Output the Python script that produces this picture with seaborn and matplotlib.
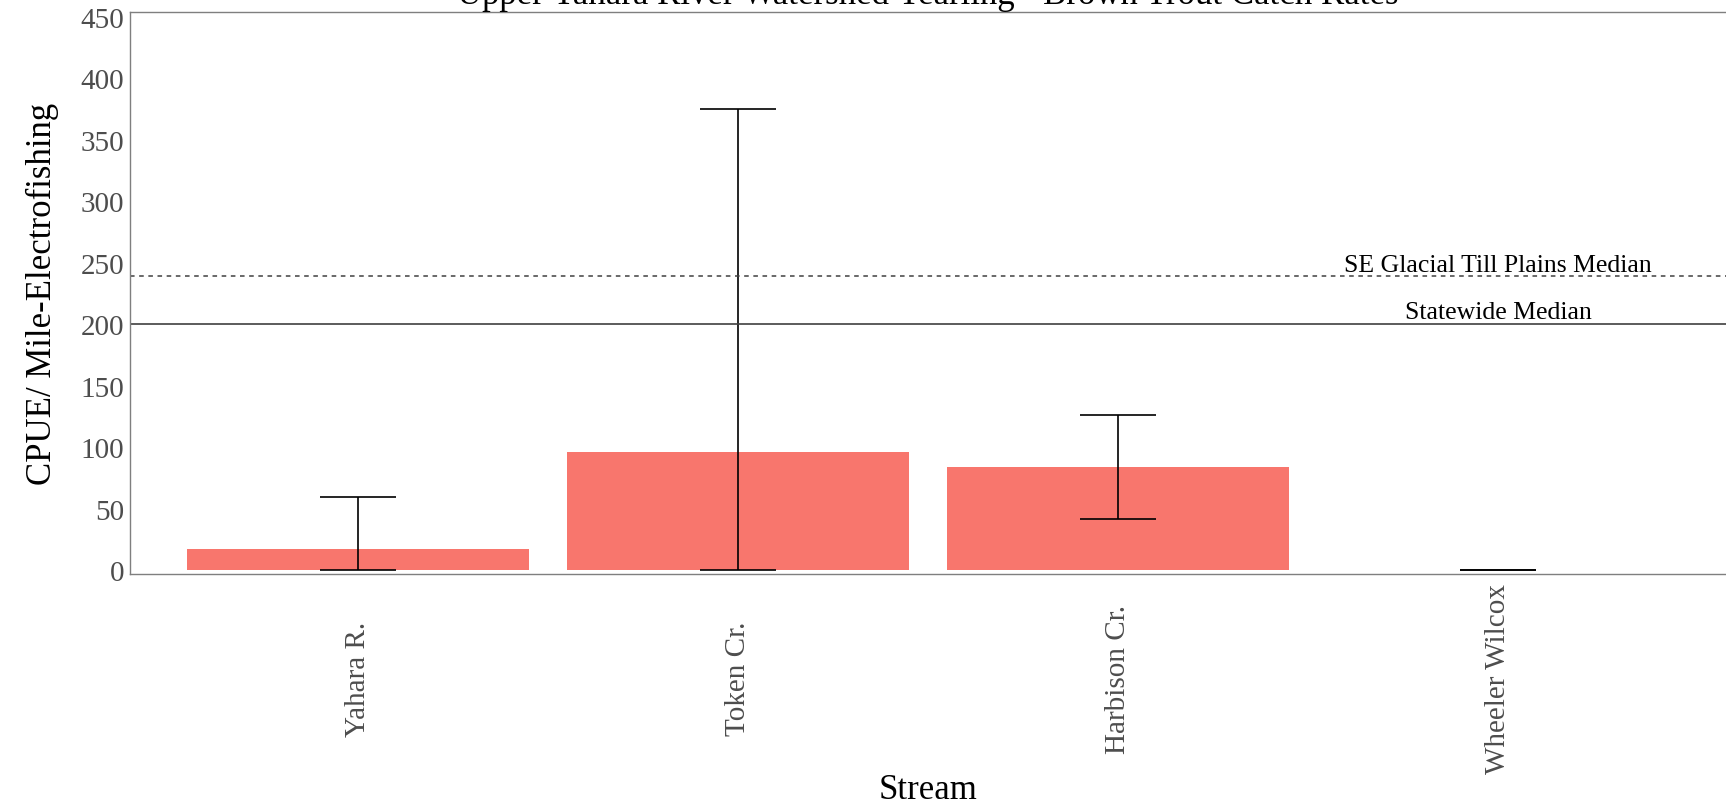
import numpy as np
import pandas as pd
import seaborn as sns
import matplotlib as ml
ml.use('Agg')
import matplotlib.pyplot as plt

streams = ["Yahara R.", "Token Cr.", "Harbison Cr.", "Wheeler Wilcox"]
cpue = [17, 96, 84, 0]
ci_low = [0, 0, 42, 0]
ci_high = [60, 375, 126, 0]
statewide_median = 200
region_median = 239

df = pd.DataFrame({"Stream": streams, "CPUE": cpue})

sns.set_style("white")
plt.rcParams['font.family'] = ['Liberation Serif', 'DejaVu Serif']

fig = plt.figure(figsize=(17.26, 8.12), dpi=100)
ax = fig.add_axes([130/1726, 237/812, 1 - 130/1726, 562/812])

sns.barplot(data=df, x="Stream", y="CPUE", color="#F8766D", saturation=1,
            width=0.9, errorbar=None, linewidth=0, ax=ax)

# error bars with caps (width 0.2 like ggplot)
pos = np.arange(len(streams))
ax.vlines(pos, ci_low, ci_high, color="black", lw=1.2)
ax.hlines(ci_low, pos - 0.1, pos + 0.1, color="black", lw=1.2)
ax.hlines(ci_high, pos - 0.1, pos + 0.1, color="black", lw=1.2)

# reference lines
ax.axhline(region_median, color="#404040", lw=1.1, ls=(0, (3, 3)))
ax.axhline(statewide_median, color="#404040", lw=1.2)
ax.text(3, 248, "SE Glacial Till Plains Median", ha="center", va="center", fontsize=18.5, color="black")
ax.text(3, 210, "Statewide Median", ha="center", va="center", fontsize=18.5, color="black")

ax.set_xlim(-0.6, 3.6)
ax.set_ylim(-3, 454)
ax.set_yticks(range(0, 451, 50))

for s in ax.spines.values():
    s.set_color("#7f7f7f")
    s.set_linewidth(1.0)
ax.spines["right"].set_visible(False)

ax.tick_params(axis="both", colors="#7f7f7f", length=3, width=1, labelsize=21, labelcolor="#4D4D4D")
ax.tick_params(axis="y", pad=1)
ax.tick_params(axis="x", pad=72)
plt.setp(ax.get_xticklabels(), rotation=90, ha="center", va="center")

ax.set_xlabel("Stream", fontsize=25, color="black", va="center")
ax.xaxis.set_label_coords(0.5, -0.3826)
ax.set_ylabel("CPUE/ Mile-Electrofishing", fontsize=25, color="black", va="center")
ax.yaxis.set_label_coords(-0.055, 0.5)

# title sits mostly above the figure edge, as in the reference
fig.text(0.5377, 1 - 4/812, "Upper Yahara River Watershed Yearling+ Brown Trout Catch Rates",
         ha="center", va="baseline", fontsize=25, color="black")

fig.savefig("out.png", dpi=100)
